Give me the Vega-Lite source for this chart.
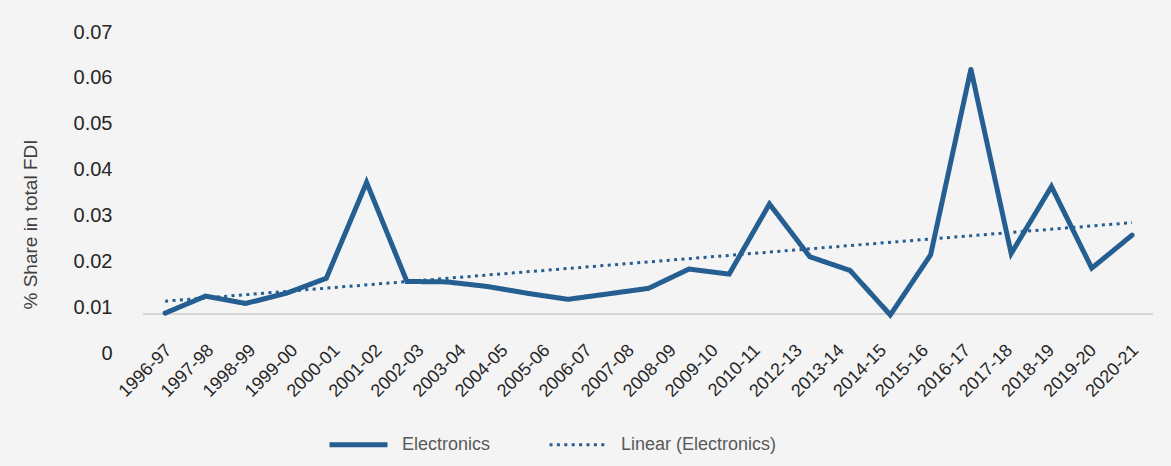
{
  "$schema": "https://vega.github.io/schema/vega-lite/v6.json",
  "width": 1010,
  "height": 321,
  "autosize": {"type": "none"},
  "padding": {"left": 143, "top": 32, "right": 18, "bottom": 113},
  "background": "#f4f4f4",
  "config": {
    "view": {"stroke": null},
    "font": "Liberation Sans"
  },
  "data": {
    "values": [
      {"year": 1996, "period": "1996-97", "share": 0.0087},
      {"year": 1997, "period": "1997-98", "share": 0.0124},
      {"year": 1998, "period": "1998-99", "share": 0.0108},
      {"year": 1999, "period": "1999-00", "share": 0.0130},
      {"year": 2000, "period": "2000-01", "share": 0.0163},
      {"year": 2001, "period": "2001-02", "share": 0.0372},
      {"year": 2002, "period": "2002-03", "share": 0.0156},
      {"year": 2003, "period": "2003-04", "share": 0.0155},
      {"year": 2004, "period": "2004-05", "share": 0.0145},
      {"year": 2005, "period": "2005-06", "share": 0.0130},
      {"year": 2006, "period": "2006-07", "share": 0.0117},
      {"year": 2007, "period": "2007-08", "share": 0.0129},
      {"year": 2008, "period": "2008-09", "share": 0.0141},
      {"year": 2009, "period": "2009-10", "share": 0.0183},
      {"year": 2010, "period": "2010-11", "share": 0.0172},
      {"year": 2011, "period": "2011-12", "share": 0.0325},
      {"year": 2012, "period": "2012-13", "share": 0.0210},
      {"year": 2013, "period": "2013-14", "share": 0.0180},
      {"year": 2014, "period": "2014-15", "share": 0.0083},
      {"year": 2015, "period": "2015-16", "share": 0.0214},
      {"year": 2016, "period": "2016-17", "share": 0.0619},
      {"year": 2017, "period": "2017-18", "share": 0.0217},
      {"year": 2018, "period": "2018-19", "share": 0.0363},
      {"year": 2019, "period": "2019-20", "share": 0.0185},
      {"year": 2020, "period": "2020-21", "share": 0.0257}
    ]
  },
  "encoding": {
    "x": {
      "field": "year",
      "type": "quantitative",
      "scale": {"domain": [1995.45, 2020.52], "nice": false, "zero": false},
      "axis": {
        "title": null,
        "grid": false,
        "domain": false,
        "ticks": false,
        "offset": -14,
        "labelAngle": -45,
        "labelFontSize": 18,
        "labelColor": "#262626",
        "labelPadding": 2,
        "labelOffset": -3,
        "labelOverlap": false,
        "labelFlush": false,
        "values": [1996, 1997.0435, 1998.087, 1999.1304, 2000.1739, 2001.2174, 2002.2609, 2003.3043, 2004.3478, 2005.3913, 2006.4348, 2007.4783, 2008.5217, 2009.5652, 2010.6087, 2011.6522, 2012.6957, 2013.7391, 2014.7826, 2015.8261, 2016.8696, 2017.913, 2018.9565, 2020],
        "labelExpr": "['1996-97','1997-98','1998-99','1999-00','2000-01','2001-02','2002-03','2003-04','2004-05','2005-06','2006-07','2007-08','2008-09','2009-10','2010-11','2012-13','2013-14','2014-15','2015-16','2016-17','2017-18','2018-19','2019-20','2020-21'][round((datum.value-1996)*23/24)]"
      }
    },
    "y": {
      "field": "share",
      "type": "quantitative",
      "scale": {"domain": [0, 0.07], "nice": false},
      "axis": {
        "title": "% Share in total FDI",
        "titleFontSize": 19,
        "titleFontWeight": "normal",
        "titleColor": "#404040",
        "titleAngle": -90,
        "titleX": -113,
        "titleY": 192,
        "titleAlign": "center",
        "titleBaseline": "middle",
        "values": [0, 0.01, 0.02, 0.03, 0.04, 0.05, 0.06, 0.07],
        "format": ".2~f",
        "grid": false,
        "domain": false,
        "ticks": false,
        "labelPadding": 31,
        "labelFontSize": 20,
        "labelColor": "#262626"
      }
    }
  },
  "layer": [
    {
      "mark": {"type": "rule", "color": "#d6d6d6", "strokeWidth": 2},
      "encoding": {"x": null, "y": {"datum": 0.0085, "type": "quantitative"}}
    },
    {
      "mark": {"type": "line", "color": "#255e91", "strokeCap": "round", "strokeJoin": "miter"},
      "encoding": {
        "strokeDash": {
          "datum": "Electronics",
          "type": "nominal",
          "scale": {"domain": ["Electronics", "Linear (Electronics)"], "range": [[1, 0], [3, 4.4]]},
          "legend": {
            "title": null,
            "orient": "none",
            "legendX": 184,
            "legendY": 381,
            "direction": "horizontal",
            "symbolType": "stroke",
            "symbolSize": 3364,
            "symbolStrokeColor": "#255e91",
            "labelFontSize": 18,
            "labelColor": "#595959",
            "labelOffset": 12,
            "columnPadding": 52
          }
        },
        "strokeWidth": {
          "datum": "Electronics",
          "type": "nominal",
          "scale": {"domain": ["Electronics", "Linear (Electronics)"], "range": [5, 3]}
        }
      }
    },
    {
      "transform": [{"regression": "share", "on": "year"}],
      "mark": {"type": "line", "color": "#255e91", "strokeCap": "butt"},
      "encoding": {
        "strokeDash": {"datum": "Linear (Electronics)", "type": "nominal"},
        "strokeWidth": {"datum": "Linear (Electronics)", "type": "nominal"}
      }
    }
  ]
}
